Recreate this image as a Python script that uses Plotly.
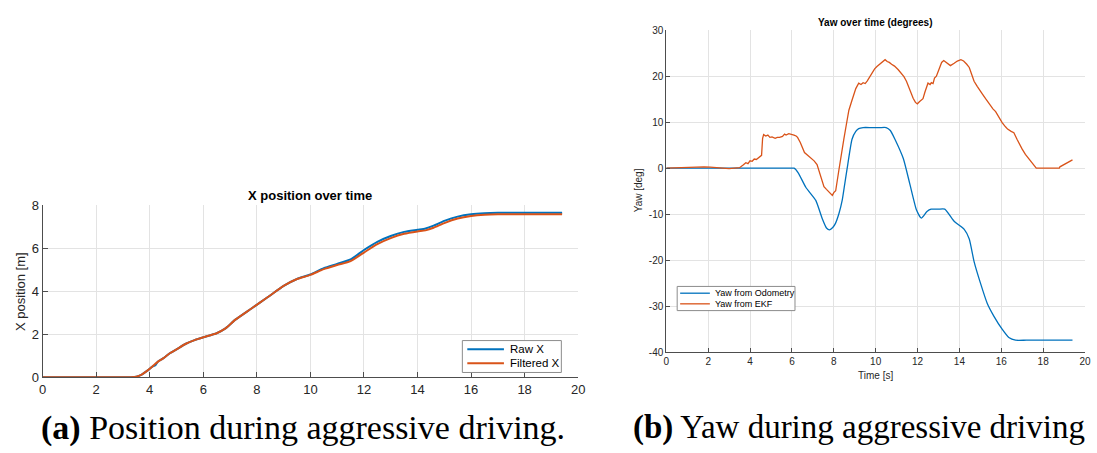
import plotly.graph_objects as go

# ---- X position data (time in s, position in m) ----
t_x = [0, 3.0, 3.3, 3.5, 3.7, 3.9, 4.1, 4.2, 4.3, 4.5, 4.75, 5.0, 5.35, 5.7, 6.0, 6.5, 6.8,
       7.2, 7.8, 8.4, 9.0, 9.5, 10.0, 10.5, 11.0, 11.5, 12.0, 12.5, 13.0, 13.5, 14.0, 14.3,
       14.6, 15.0, 15.5, 16.0, 16.5, 17.0, 18.0, 19.4]
raw_x = [0, 0, 0.005, 0.03, 0.13, 0.3, 0.5, 0.55, 0.72, 0.88, 1.12, 1.3, 1.56, 1.74, 1.86, 2.05,
         2.25, 2.68, 3.2, 3.72, 4.25, 4.57, 4.78, 5.07, 5.27, 5.48, 5.92, 6.3, 6.57, 6.76, 6.86,
         6.92, 7.05, 7.27, 7.47, 7.58, 7.63, 7.65, 7.65, 7.65]
filt_x = [0, 0, 0.005, 0.03, 0.13, 0.3, 0.5, 0.62, 0.72, 0.88, 1.12, 1.3, 1.56, 1.74, 1.86, 2.05,
          2.25, 2.68, 3.2, 3.72, 4.25, 4.57, 4.76, 5.03, 5.22, 5.4, 5.8, 6.19, 6.47, 6.67, 6.78,
          6.83, 6.95, 7.17, 7.38, 7.5, 7.56, 7.58, 7.58, 7.58]

# ---- Yaw data (degrees) ----
t_odom = [0, 3.0, 5.0, 5.8, 6.1, 6.3, 6.67, 7.14, 7.45, 7.65, 7.8, 7.95, 8.08, 8.25, 8.4,
          8.52, 8.64, 8.87, 9.05, 9.19, 9.4, 9.8, 10.2, 10.5, 10.7, 10.92, 11.32, 11.63,
          11.95, 12.18, 12.45, 12.65, 13.0, 13.3, 13.76, 14.23, 14.47, 14.7, 15.02, 15.33,
          15.65, 16.04, 16.36, 16.68, 17.2, 18.5, 19.4]
yaw_odom = [0, 0, 0, 0, 0, -1.0, -4.2, -7.0, -11.0, -13.0, -13.4, -12.9, -12.0, -9.8, -7.0,
            -3.5, 0, 6.3, 8.0, 8.6, 8.83, 8.83, 8.83, 8.83, 8.2, 6.3, 2.1, -3.4, -9.1, -10.85,
            -9.4, -8.9, -8.9, -8.9, -11.6, -13.3, -15.4, -20.3, -25.2, -29.4, -32.2, -35.0,
            -36.8, -37.4, -37.4, -37.4, -37.4]

t_ekf = [0, 0.8, 1.2, 1.5, 1.8, 2.1, 2.4, 2.7, 3.0, 3.3, 3.5, 3.67, 3.8, 3.9, 4.0, 4.1, 4.2,
         4.3, 4.4, 4.5, 4.55, 4.6, 4.65, 4.75, 4.85, 4.95, 5.05, 5.2, 5.3, 5.41, 5.55, 5.65,
         5.72, 5.85, 6.0, 6.1, 6.2, 6.27, 6.4, 6.51, 6.6, 6.75, 6.9, 7.06, 7.2, 7.3, 7.45,
         7.53, 7.65, 7.77, 7.85, 7.93, 8.0, 8.09, 8.24, 8.35, 8.48, 8.6, 8.72, 8.85, 8.95,
         9.05, 9.19, 9.3, 9.4, 9.5, 9.6, 9.74, 9.85, 9.95, 10.06, 10.2, 10.3, 10.45, 10.55,
         10.65, 10.76, 10.9, 11.08, 11.2, 11.35, 11.47, 11.6, 11.79, 11.9, 11.99, 12.1,
         12.26, 12.35, 12.45, 12.5, 12.6, 12.66, 12.74, 12.81, 12.9, 13.05, 13.15, 13.25,
         13.4, 13.57, 13.75, 13.9, 14.07, 14.2, 14.35, 14.47, 14.6, 14.7, 14.85, 14.95,
         15.1, 15.25, 15.35, 15.49, 15.6, 15.73, 15.85, 16.04, 16.2, 16.3, 16.47, 16.6,
         16.75, 16.85, 16.99, 17.15, 17.3, 17.45, 17.55, 17.67, 18.0, 18.4, 18.77, 18.8,
         19.1, 19.4]
yaw_ekf = [0.0, 0.1, 0.25, 0.35, 0.3, 0.25, 0.2, 0.0, -0.1, 0.0, 0.1, 0.7, 1.2, 1.0, 1.6,
           1.5, 2.0, 1.9, 2.3, 2.6, 2.8, 6.5, 7.3, 7.0, 7.2, 6.7, 6.8, 6.5, 6.7, 6.7, 6.9,
           7.4, 7.2, 7.5, 7.4, 7.2, 7.0, 6.7, 5.6, 4.2, 3.4, 2.8, 2.3, 1.6, 0.8, -0.7, -2.5,
           -4.0, -4.6, -5.1, -5.4, -5.9, -5.3, -4.9, -0.5, 3.0, 6.3, 9.5, 12.6, 14.5, 16.0,
           17.3, 18.5, 18.2, 18.6, 18.4, 19.0, 20.0, 21.0, 21.6, 22.1, 22.6, 22.9, 23.6,
           23.2, 23.0, 22.6, 22.2, 21.4, 20.8, 19.9, 18.9, 17.3, 15.2, 14.3, 14.0, 14.5,
           15.1, 16.5, 18.0, 18.5, 18.2, 18.6, 18.4, 19.6, 20.0, 22.1, 23.0, 23.4, 22.8,
           22.3, 22.8, 23.3, 23.6, 23.3, 22.6, 21.9, 20.2, 18.9, 17.8, 17.0, 16.1, 15.1,
           14.5, 13.4, 12.9, 12.3, 11.3, 9.9, 9.0, 8.5, 8.0, 7.7, 6.3, 5.3, 4.2, 3.0, 2.1,
           1.2, 0.5, 0.0, 0.0, 0.0, 0.0, 0.3, 1.0, 1.8]

X_TICKS = [0, 2, 4, 6, 8, 10, 12, 14, 16, 18, 20]
YAW_TICKS = [-40, -30, -20, -10, 0, 10, 20, 30]
YAW_TICK_TEXT = ["-40", "-30", "-20", "-10", "0", "10", "20", "30"]

BLUE = "#0072BD"
ORANGE = "#D95319"
W, H = 1097, 453
SANS = "Liberation Sans, Arial, Helvetica, sans-serif"
SERIF = "Liberation Serif, Times New Roman, serif"
TXT = "#262626"


def px(x):
    return x / W


def py(y):
    return (H - y) / H


fig = go.Figure()

fig.add_trace(go.Scatter(x=t_x, y=raw_x, name="Raw X", mode="lines",
                         line=dict(color=BLUE, width=2, shape="spline", smoothing=0.6),
                         xaxis="x", yaxis="y"))
fig.add_trace(go.Scatter(x=t_x, y=filt_x, name="Filtered X", mode="lines",
                         line=dict(color=ORANGE, width=2, shape="spline", smoothing=0.6),
                         xaxis="x", yaxis="y"))
fig.add_trace(go.Scatter(x=t_odom, y=yaw_odom, name="Yaw from Odometry", mode="lines",
                         line=dict(color=BLUE, width=1.3, shape="spline", smoothing=0.5),
                         xaxis="x2", yaxis="y2"))
fig.add_trace(go.Scatter(x=t_ekf, y=yaw_ekf, name="Yaw from EKF", mode="lines",
                         line=dict(color=ORANGE, width=1.3),
                         xaxis="x2", yaxis="y2"))

axis_common = dict(showgrid=True, gridcolor="#e3e3e3", gridwidth=1, zeroline=False,
                   showline=True, linecolor="#4d4d4d", linewidth=1, ticks="inside",
                   tickcolor="#4d4d4d", mirror=False)

fig.update_layout(
    width=W, height=H,
    margin=dict(l=0, r=0, t=0, b=0),
    paper_bgcolor="white", plot_bgcolor="white",
    showlegend=False,
    xaxis=dict(domain=[px(39), px(580)], range=[0, 20], tickvals=X_TICKS, ticklen=5,
               tickfont=dict(family=SANS, size=13, color=TXT), anchor="y", **axis_common),
    yaxis=dict(domain=[py(383), py(205)], range=[0, 8], dtick=2, ticklen=5,
               tickfont=dict(family=SANS, size=13, color=TXT), anchor="x", **axis_common),
    xaxis2=dict(domain=[px(669), px(1092)], range=[0, 20], tickvals=X_TICKS, ticklen=4,
                tickfont=dict(family=SANS, size=10, color=TXT), anchor="y2", **axis_common),
    yaxis2=dict(domain=[py(357), py(24)], range=[-40, 30], tickvals=YAW_TICKS,
                ticktext=YAW_TICK_TEXT, ticklen=4,
                tickfont=dict(family=SANS, size=10, color=TXT), anchor="x2", **axis_common),
)

# Legend boxes, drawn in paper coordinates: (box, sample x-range, row y's, text x, font size)
legends = [
    dict(box=(463, 345, 563, 378), sample=(468, 505), rows=(354, 368.5), text_x=509,
         size=11.5, width=2, entries=[("Raw X", BLUE), ("Filtered X", ORANGE)]),
    dict(box=(680, 289, 799, 314), sample=(683, 713), rows=(296, 307), text_x=716,
         size=9, width=1.3, entries=[("Yaw from Odometry", BLUE), ("Yaw from EKF", ORANGE)]),
]

shapes = []
annotations = [
    # panel titles
    dict(text="<b>X position over time</b>", x=px(309.5), y=py(195),
         font=dict(family=SANS, size=13, color="#000000")),
    dict(text="<b>Yaw over time (degrees)</b>", x=px(880.5), y=py(16),
         font=dict(family=SANS, size=10, color="#000000")),
    # axis titles
    dict(text="X position [m]", x=px(16), y=py(294), textangle=-90,
         font=dict(family=SANS, size=13, color=TXT)),
    dict(text="Yaw [deg]", x=px(641), y=py(190), textangle=-90,
         font=dict(family=SANS, size=10, color=TXT)),
    dict(text="Time [s]", x=px(880.5), y=py(381),
         font=dict(family=SANS, size=10, color=TXT)),
    # sub-figure captions
    dict(text="<b>(a)</b> Position during aggressive driving.", x=px(35), y=py(435),
         xanchor="left", font=dict(family=SERIF, size=34, color="#000000")),
    dict(text="<b>(b)</b> Yaw during aggressive driving", x=px(633), y=py(435),
         xanchor="left", font=dict(family=SERIF, size=33, color="#000000")),
]

for lg in legends:
    x0, y0, x1, y1 = lg["box"]
    shapes.append(dict(type="rect", xref="paper", yref="paper",
                       x0=px(x0), x1=px(x1), y0=py(y1), y1=py(y0),
                       fillcolor="white", line=dict(color="#8c8c8c", width=1), layer="above"))
    for (label, color), ry in zip(lg["entries"], lg["rows"]):
        shapes.append(dict(type="line", xref="paper", yref="paper",
                           x0=px(lg["sample"][0]), x1=px(lg["sample"][1]),
                           y0=py(ry), y1=py(ry),
                           line=dict(color=color, width=lg["width"]), layer="above"))
        annotations.append(dict(text=label, x=px(lg["text_x"]), y=py(ry), xanchor="left",
                                font=dict(family=SANS, size=lg["size"], color="#000000")))

for a in annotations:
    a.setdefault("xanchor", "center")
    a["xref"] = "paper"
    a["yref"] = "paper"
    a["yanchor"] = "middle"
    a["showarrow"] = False
fig.update_layout(annotations=annotations, shapes=shapes)

fig.write_html("out.html")
